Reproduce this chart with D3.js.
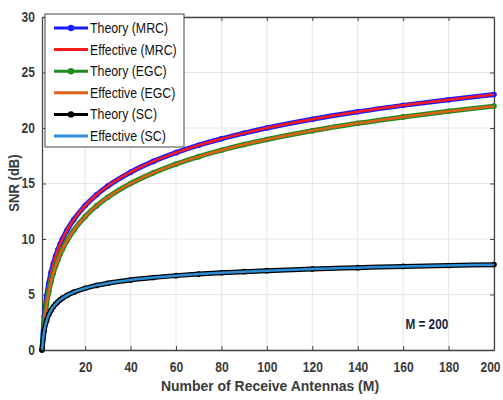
<!DOCTYPE html>
<html>
<head>
<meta charset="utf-8">
<script src="https://cdn.jsdelivr.net/npm/d3@7"></script>
<style>
  body { margin: 0; background: #fff; }
  text { font-family: "Liberation Sans", Arial, sans-serif; }
</style>
</head>
<body>
<div id="chart"></div>
<script>
// number of receive antennas (sample points)
var antennas = [1, 2, 3, 4, 5, 6, 7, 8, 9, 10, 12, 15, 20, 25, 30, 40, 50, 60, 70, 80, 90, 100, 120, 140, 160, 180, 200];

// SNR in dB, theory and effective lie on top of each other
var snrMRC = [0, 3.01, 4.77, 6.02, 6.99, 7.78, 8.45, 9.03, 9.54, 10.0, 10.79, 11.76, 13.01, 13.98, 14.77, 16.02, 16.99, 17.78, 18.45, 19.03, 19.54, 20.0, 20.79, 21.46, 22.04, 22.55, 23.01];
var snrEGC = [0, 2.52, 4.10, 5.26, 6.17, 6.93, 7.57, 8.13, 8.62, 9.07, 9.84, 10.79, 12.02, 12.98, 13.76, 15.0, 15.96, 16.75, 17.42, 18.0, 18.51, 18.96, 19.75, 20.42, 21.0, 21.51, 21.97];
var snrSC = [0, 1.76, 2.63, 3.19, 3.59, 3.89, 4.14, 4.34, 4.52, 4.67, 4.92, 5.21, 5.56, 5.82, 6.02, 6.31, 6.53, 6.70, 6.84, 6.96, 7.06, 7.15, 7.30, 7.42, 7.53, 7.61, 7.69];

var xTicks = [20, 40, 60, 80, 100, 120, 140, 160, 180, 200];
var yTicks = [0, 5, 10, 15, 20, 25, 30];

var series = [
  { name: "Theory (MRC)", values: snrMRC, color: "#1a1aff", theory: true },
  { name: "Effective (MRC)", values: snrMRC, color: "#ff1a1a", theory: false },
  { name: "Theory (EGC)", values: snrEGC, color: "#1f8a1f", theory: true },
  { name: "Effective (EGC)", values: snrEGC, color: "#e0601a", theory: false },
  { name: "Theory (SC)", values: snrSC, color: "#000000", theory: true },
  { name: "Effective (SC)", values: snrSC, color: "#2b8fd6", theory: false }
];

var width = 503, height = 400;
var margin = {top: 17, right: 9, bottom: 50, left: 42};
var w = width - margin.left - margin.right,
    h = height - margin.top - margin.bottom;

// squeeze text horizontally, the original uses a narrow face
function condense(sel, f) {
  sel.each(function() {
    var t = d3.select(this);
    t.attr("textLength", this.getComputedTextLength() * f)
     .attr("lengthAdjust", "spacingAndGlyphs");
  });
}

var svg = d3.select("#chart").append("svg")
    .attr("width", width)
    .attr("height", height);

var g = svg.append("g")
    .attr("transform", `translate(${margin.left},${margin.top})`);

var x = d3.scaleLinear().domain([1, 200]).range([0, w]);
var y = d3.scaleLinear().domain([0, 30]).range([h, 0]);

// grid
g.append("g").selectAll("line").data(xTicks).join("line")
    .attr("x1", d => x(d)).attr("x2", d => x(d))
    .attr("y1", 0).attr("y2", h)
    .attr("stroke", "#e6e6e6").attr("stroke-width", 1);
g.append("g").selectAll("line").data(yTicks).join("line")
    .attr("x1", 0).attr("x2", w)
    .attr("y1", d => y(d)).attr("y2", d => y(d))
    .attr("stroke", "#e6e6e6").attr("stroke-width", 1);

// axes, ticks pointing inwards like matlab
var xAxis = g.append("g")
    .attr("transform", `translate(0,${h})`)
    .call(d3.axisBottom(x).tickValues(xTicks).tickSizeInner(-4).tickSizeOuter(0).tickPadding(12));
var yAxis = g.append("g")
    .call(d3.axisLeft(y).tickValues(yTicks).tickSizeInner(-4).tickSizeOuter(0).tickPadding(7));
g.append("g")
    .call(d3.axisTop(x).tickValues(xTicks).tickSizeInner(-4).tickSizeOuter(0).tickFormat(""));
g.append("g")
    .attr("transform", `translate(${w},0)`)
    .call(d3.axisRight(y).tickValues(yTicks).tickSizeInner(-4).tickSizeOuter(0).tickFormat(""));

g.selectAll(".domain").attr("stroke", "#444").attr("stroke-width", 1.3);
g.selectAll(".tick line").attr("stroke", "#444");
[xAxis, yAxis].forEach(function(a) {
  a.selectAll("text")
    .attr("font-size", 14)
    .attr("fill", "#3a3a3a")
    .attr("font-weight", "bold");
  condense(a.selectAll("text"), 0.86);
});
// last label sits at the window edge, nudge it in a bit
xAxis.selectAll("text").filter(d => d === 200).attr("dx", -4);

// lines
var line = d3.line()
    .x((d, i) => x(antennas[i]))
    .y(d => y(d))
    .curve(d3.curveMonotoneX);

var plot = g.append("g");
series.forEach(function(s) {
  plot.append("path")
      .datum(s.values)
      .attr("fill", "none")
      .attr("stroke", s.color)
      .attr("stroke-width", s.theory ? 5 : 2.5)
      .attr("d", line);
  if (s.theory) {
    plot.append("g").selectAll("circle").data(s.values).join("circle")
        .attr("cx", (d, i) => x(antennas[i]))
        .attr("cy", d => y(d))
        .attr("r", 2.8)
        .attr("fill", s.color);
  }
});

// legend
var lg = g.append("g").attr("transform", "translate(3,-3)");
lg.append("rect")
    .attr("width", 139).attr("height", 133)
    .attr("fill", "#fff").attr("stroke", "#444").attr("stroke-width", 1);
series.forEach(function(s, i) {
  var yy = 14 + i * 21.6;
  lg.append("line")
      .attr("x1", 9).attr("x2", 43).attr("y1", yy).attr("y2", yy)
      .attr("stroke", s.color).attr("stroke-width", 3);
  if (s.theory) {
    lg.append("circle").attr("cx", 26).attr("cy", yy).attr("r", 3.2).attr("fill", s.color);
  }
  var t = lg.append("text")
      .attr("x", 45).attr("y", yy + 5)
      .attr("font-size", 14)
      .attr("fill", "#111")
      .text(s.name);
  condense(t, 0.88);
});

// annotation
var ann = g.append("text")
    .attr("x", x(161)).attr("y", y(1.9))
    .attr("font-size", 14)
    .attr("font-weight", "bold")
    .attr("fill", "#1a1f3f")
    .text("M = 200");
condense(ann, 0.84);

// axis labels
var xl = svg.append("text")
    .attr("x", 270).attr("y", 391)
    .attr("text-anchor", "middle")
    .attr("font-size", 15.5)
    .attr("font-weight", "bold")
    .attr("fill", "#3a3a3a")
    .text("Number of Receive Antennas (M)");
condense(xl, 0.9);
var yl = svg.append("text")
    .attr("transform", `translate(19,183) rotate(-90)`)
    .attr("text-anchor", "middle")
    .attr("font-size", 14.5)
    .attr("font-weight", "bold")
    .attr("fill", "#3a3a3a")
    .text("SNR (dB)");
condense(yl, 0.9);
</script>
</body>
</html>
